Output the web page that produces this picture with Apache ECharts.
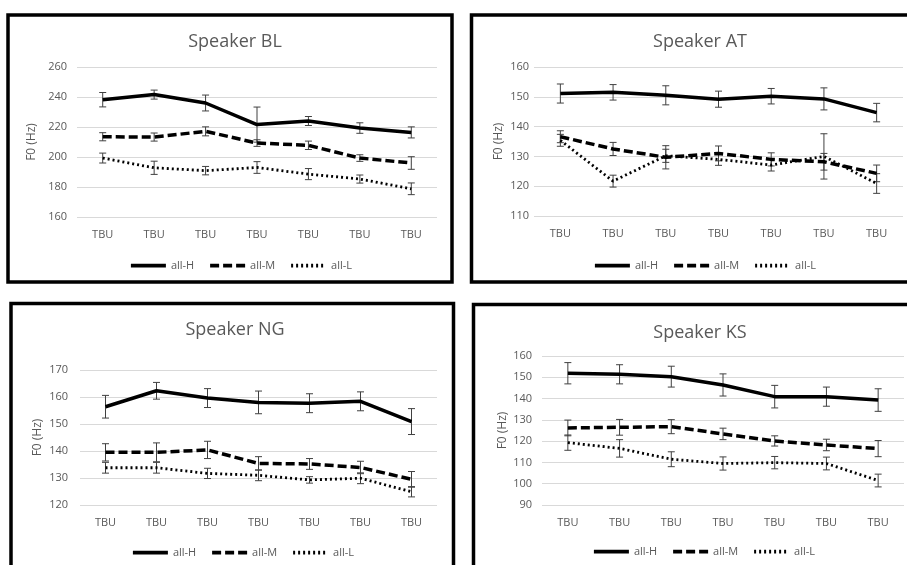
<!DOCTYPE html>
<html><head><meta charset="utf-8">
<script src="https://cdn.jsdelivr.net/npm/echarts@6/dist/echarts.min.js"></script>
<style>html,body{margin:0;padding:0;background:#fff}#c{width:907px;height:565px}</style>
</head><body><div id="c"></div>
<script>
const categories = ['TBU','TBU','TBU','TBU','TBU','TBU','TBU'];
const seriesNames = ['all-H','all-M','all-L'];
const speakerTitles = ['Speaker BL','Speaker AT','Speaker NG','Speaker KS'];
const yAxisName = 'F0 (Hz)';

// Speaker BL
const blH = [238.2, 241.6, 236.0, 221.6, 224.0, 219.3, 216.4];
const blHErr = [4.8, 3.0, 5.3, 11.7, 3.0, 3.5, 3.7];
const blM = [213.5, 213.3, 217.1, 209.3, 207.8, 199.3, 196.0];
const blMErr = [2.7, 2.7, 3.0, 2.2, 2.8, 2.2, 4.2];
const blL = [199.3, 192.8, 190.9, 193.0, 188.6, 185.3, 178.8];
const blLErr = [3.3, 4.4, 2.8, 3.9, 3.7, 2.7, 3.9];
const blAxis = {min: 160, max: 260, interval: 20};

// Speaker AT
const atH = [151.1, 151.5, 150.5, 149.2, 150.2, 149.3, 144.7];
const atHErr = [3.2, 2.6, 3.2, 2.7, 2.6, 3.7, 3.1];
const atM = [136.6, 132.5, 129.7, 131.0, 129.0, 128.2, 124.3];
const atMErr = [2.0, 2.2, 3.9, 2.5, 2.2, 2.8, 2.8];
const atL = [135.4, 121.7, 130.2, 129.0, 127.1, 130.0, 120.9];
const atLErr = [2.0, 2.0, 2.2, 2.0, 2.0, 7.6, 3.3];
const atAxis = {min: 110, max: 160, interval: 10};

// Speaker NG
const ngH = [156.4, 162.3, 159.6, 158.0, 157.7, 158.4, 150.9];
const ngHErr = [4.2, 3.1, 3.5, 4.2, 3.5, 3.5, 4.8];
const ngM = [139.5, 139.5, 140.4, 135.4, 135.2, 133.9, 129.5];
const ngMErr = [3.2, 3.5, 3.2, 2.5, 2.0, 2.3, 2.9];
const ngL = [133.8, 133.8, 131.7, 131.0, 129.3, 129.9, 124.9];
const ngLErr = [2.0, 2.0, 1.9, 2.0, 1.2, 2.0, 1.9];
const ngAxis = {min: 120, max: 170, interval: 10};

// Speaker KS
const ksH = [151.9, 151.4, 150.3, 146.4, 140.9, 140.9, 139.3];
const ksHErr = [5.0, 4.5, 4.9, 5.2, 5.3, 4.5, 5.3];
const ksM = [126.2, 126.5, 126.8, 123.4, 120.1, 118.2, 116.5];
const ksMErr = [3.7, 3.7, 3.3, 2.7, 2.4, 2.7, 3.8];
const ksL = [119.3, 116.6, 111.5, 109.5, 109.9, 109.5, 101.5];
const ksLErr = [3.6, 4.1, 3.5, 3.1, 2.9, 3.0, 3.0];
const ksAxis = {min: 90, max: 160, interval: 10};

const panelData = [
  {vals: [blH, blM, blL], errs: [blHErr, blMErr, blLErr], axis: blAxis},
  {vals: [atH, atM, atL], errs: [atHErr, atMErr, atLErr], axis: atAxis},
  {vals: [ngH, ngM, ngL], errs: [ngHErr, ngMErr, ngLErr], axis: ngAxis},
  {vals: [ksH, ksM, ksL], errs: [ksHErr, ksMErr, ksLErr], axis: ksAxis}
];

// layout (positions/styles only)
const layout = [
  {grid: {left: 77, top: 67, width: 360, height: 150}, title: [230, 28], legend: [124, 255], nameGap: 39, labelMargin: 10, frame: [8, 15, 444, 267]},
  {grid: {left: 534, top: 67, width: 369, height: 149}, title: [695, 28], legend: [588, 255], nameGap: 29, labelMargin: 5, frame: [471.5, 15, 445, 267]},
  {grid: {left: 80, top: 370, width: 357, height: 135}, title: [230, 316], legend: [126, 542], nameGap: 36, labelMargin: 12, frame: [11, 303.5, 442.5, 300]},
  {grid: {left: 542, top: 356, width: 362, height: 149}, title: [695, 319], legend: [587, 541], nameGap: 33, labelMargin: 10, frame: [473.5, 304.5, 445, 300]}
];

const lineStyles = [
  {color: '#000', width: 3.5, type: 'solid'},
  {color: '#000', width: 3.5, type: [9, 4]},
  {color: '#000', width: 2.8, type: [2, 3]}
];

const FONT = '"Open Sans", "Noto Sans", sans-serif';
const TXT = '#595959';

function renderErr(params, api) {
  const x = api.value(0), v = api.value(1), e = api.value(2);
  const t = api.coord([x, v + e]);
  const b = api.coord([x, v - e]);
  const hw = 3.5;
  const st = {stroke: '#404040', lineWidth: 1};
  return {type: 'group', children: [
    {type: 'line', shape: {x1: t[0], y1: t[1], x2: b[0], y2: b[1]}, style: st},
    {type: 'line', shape: {x1: t[0] - hw, y1: t[1], x2: t[0] + hw, y2: t[1]}, style: st},
    {type: 'line', shape: {x1: b[0] - hw, y1: b[1], x2: b[0] + hw, y2: b[1]}, style: st}
  ]};
}

const option = {
  animation: false,
  backgroundColor: '#fff',
  textStyle: {fontFamily: FONT},
  title: [], legend: [], grid: [], xAxis: [], yAxis: [], series: [], graphic: []
};

panelData.forEach((p, k) => {
  const L = layout[k];
  option.title.push({
    text: speakerTitles[k], left: L.title[0], top: L.title[1], textAlign: 'center',
    textStyle: {fontSize: 18, fontWeight: 'normal', color: TXT, fontFamily: FONT}
  });
  option.legend.push({
    data: seriesNames, left: L.legend[0], top: L.legend[1],
    itemWidth: 35, itemHeight: 14, itemGap: 14,
    itemStyle: {opacity: 0},
    lineStyle: {width: 3.8},
    textStyle: {fontSize: 11, color: TXT, fontFamily: FONT}
  });
  option.grid.push(L.grid);
  option.xAxis.push({
    type: 'category', gridIndex: k, data: categories,
    axisLine: {show: false}, axisTick: {show: false},
    axisLabel: {color: TXT, fontSize: 11, margin: 12, fontFamily: FONT}
  });
  option.yAxis.push({
    type: 'value', gridIndex: k, min: p.axis.min, max: p.axis.max, interval: p.axis.interval,
    name: yAxisName, nameLocation: 'middle', nameGap: L.nameGap,
    nameTextStyle: {color: TXT, fontSize: 12, fontFamily: FONT},
    axisLine: {show: false}, axisTick: {show: false},
    axisLabel: {color: TXT, fontSize: 11, margin: L.labelMargin, fontFamily: FONT},
    splitLine: {lineStyle: {color: '#d9d9d9', width: 1}}
  });
  p.vals.forEach((vals, s) => {
    option.series.push({
      type: 'custom', name: 'err', xAxisIndex: k, yAxisIndex: k, z: 1,
      renderItem: renderErr,
      data: vals.map((v, i) => [i, v, p.errs[s][i]]),
      encode: {x: 0, y: 1}
    });
  });
  p.vals.forEach((vals, s) => {
    option.series.push({
      type: 'line', name: seriesNames[s], xAxisIndex: k, yAxisIndex: k, z: 3,
      data: vals, symbol: 'none', showSymbol: false,
      lineStyle: lineStyles[s], itemStyle: {color: '#000'}
    });
  });
  const f = L.frame;
  option.graphic.push({
    type: 'rect', shape: {x: f[0], y: f[1], width: f[2], height: f[3]},
    style: {fill: 'none', stroke: '#000', lineWidth: 3.5}, z: 100
  });
});

const chart = echarts.init(document.getElementById('c'), null, {renderer: 'canvas'});
chart.setOption(option);
</script>
</body></html>
